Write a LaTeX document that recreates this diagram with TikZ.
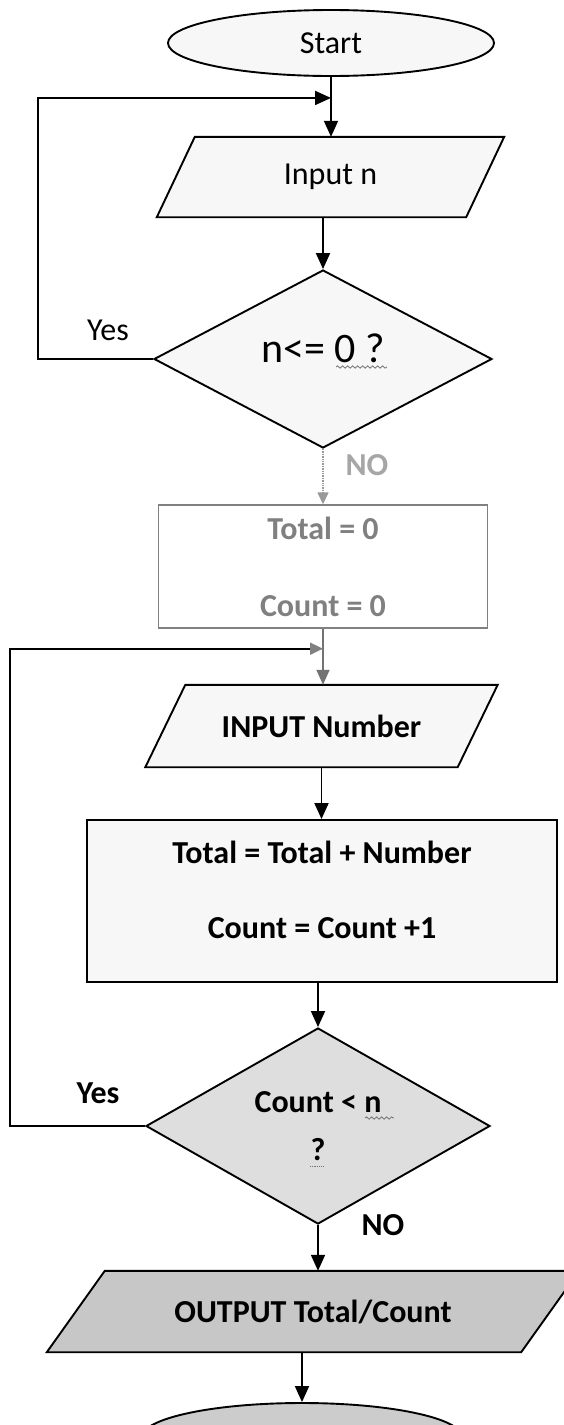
\documentclass[tikz,border=0pt]{standalone}
\usepackage{fontspec}
\setmainfont{Carlito}
\usetikzlibrary{shapes.geometric,arrows.meta,calc,decorations.pathmorphing,backgrounds}
\newcommand{\drawpar}[3]{%
  \begin{pgfonlayer}{background}
  \draw[line width=1.9pt, fill=#3] ($(#1.south west)+(-#2,0)$) -- ($(#1.south east)+(-#2,0)$) -- ($(#1.north east)+(#2,0)$) -- ($(#1.north west)+(#2,0)$) -- cycle;
  \end{pgfonlayer}}
\begin{document}
\begin{tikzpicture}[x=1pt,y=-1pt,
  arr/.style={line width=1.9pt,-{Triangle[length=16pt,width=14pt]}},
  txt/.style={font={\fontsize{32}{38}\selectfont}},
  btxt/.style={font={\fontsize{32}{38}\selectfont\bfseries}},
  shapebox/.style={draw, line width=1.9pt, inner sep=0pt},
  parbox/.style={rectangle, inner sep=0pt},
  squig/.style={black!55, line width=0.8pt, decorate, decoration={snake, amplitude=1.2pt, segment length=5pt}}
  ]
\useasboundingbox (0,0) rectangle (564,1425);
\begin{pgfonlayer}{background}
\fill[white] (0,0) rectangle (564,1425);
\end{pgfonlayer}

% nodes
\node[ellipse, shapebox, fill=black!3, minimum width=326pt, minimum height=66pt, txt] (start) at (331,43) {Start};
\node[parbox, minimum width=309pt, minimum height=80pt, txt] (in1) at (330.5,177) {Input n};
\drawpar{in1}{19}{black!3}
\node[diamond, shapebox, fill=black!3, minimum width=338pt, minimum height=178pt] (d1) at (323,359) {};
\node[inner sep=0pt, font={\fontsize{42}{50}\selectfont}] (d1t) at (323,348) {n<= 0 ?};
\node[rectangle, draw=black!50, line width=1.4pt, inner sep=0pt, minimum width=329pt, minimum height=123pt, align=center, text=black!50, font={\fontsize{32}{77}\selectfont\bfseries}] (box0) at (323,566.5) {Total = 0\\Count = 0};
\node[parbox, minimum width=312pt, minimum height=82pt, btxt] (in2) at (321.5,726) {INPUT Number};
\drawpar{in2}{20}{black!3}
\node[rectangle, shapebox, fill=black!3, minimum width=470pt, minimum height=162pt] (proc) at (322,901) {};
\node[align=center, inner sep=0pt, font={\fontsize{32}{75}\selectfont\bfseries}] (proct) at (322,889.5) {Total = Total + Number\\Count = Count +1};
\node[diamond, shapebox, fill=black!13, minimum width=344pt, minimum height=182pt, align=center, font={\fontsize{32}{48}\selectfont\bfseries}] (d2) at (318,1126) {Count < n\\?};
\node[parbox, minimum width=474pt, minimum height=81pt, btxt] (out) at (313,1311.5) {OUTPUT Total/Count};
\drawpar{out}{29}{black!22}
\node[ellipse, shapebox, fill=black!20, minimum width=320pt, minimum height=68pt] (stop) at (302,1437) {};

% labels
\node[txt] (yes1) at (108,330) {Yes};
\node[btxt] (yes2) at (98,1093) {Yes};
\node[btxt, text=black!35] (no1) at (367,465) {NO};
\node[btxt] (no2) at (383,1225) {NO};

% squiggles
\draw[squig] ($(d1t.center)+(13,19)$) -- ($(d1t.center)+(64,19)$);
\draw[squig] ($(d2.center)+(47,-8)$) -- ($(d2.center)+(76,-8)$);
\draw[black!55, line width=0.8pt, densely dotted] ($(d2.center)+(-8,40)$) -- ($(d2.center)+(6,40)$);

% connectors
\coordinate (j1) at ($(start.south)+(0,21)$);
\coordinate (j2) at ($(box0.south)+(0,20)$);
\draw[arr] (start.south) -- (start.south |- in1.north);
\draw[arr] (d1.north |- in1.south) -- (d1.north);
\draw[arr] (d1.west) -- ++(-115,0) |- (j1);
\draw[line width=1.4pt, black!40, densely dotted, -{Triangle[length=12pt,width=11pt]}] (d1.south) -- (box0.north);
\draw[line width=1.5pt, black!55, -{Triangle[length=15pt,width=13pt]}] (box0.south) -- (box0.south |- in2.north);
\draw[line width=1.9pt, -{Triangle[length=13pt,width=12pt,color=black!50]}] (d2.west) -- ++(-135,0) |- (j2);
\draw[arr] (in2.south) -- (in2.south |- proc.north);
\draw[arr] (d2.north |- proc.south) -- (d2.north);
\draw[arr] (d2.south) -- (d2.south |- out.north);
\draw[arr] (stop.north |- out.south) -- (stop.north);
\end{tikzpicture}
\end{document}
